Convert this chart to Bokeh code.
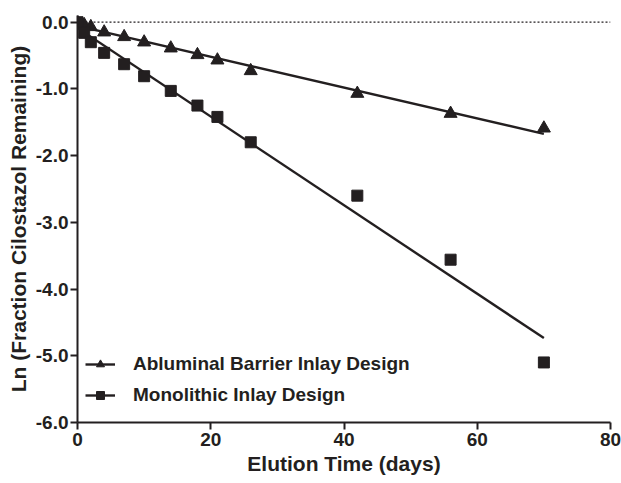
import numpy as np
from bokeh.plotting import figure
from bokeh.models import Range1d, FixedTicker, Span, Legend, LegendItem, PrintfTickFormatter
from bokeh.embed import file_html
from bokeh.resources import INLINE

# Elution sampling days and log of fraction of cilostazol remaining
days = [0, 1, 2, 4, 7, 10, 14, 18, 21, 26, 42, 56, 70]
ln_barrier = [0.0, -0.04, -0.07, -0.15, -0.22, -0.30, -0.39, -0.49, -0.57, -0.73, -1.07, -1.37, -1.59]
ln_monolithic = [0.0, -0.16, -0.30, -0.46, -0.63, -0.81, -1.03, -1.25, -1.42, -1.80, -2.60, -3.56, -5.10]

series_names = ["Abluminal Barrier Inlay Design", "Monolithic Inlay Design"]
x_ticks = [0, 20, 40, 60, 80]
y_ticks = [0, -1, -2, -3, -4, -5, -6]

INK = "#231f20"
FONT = "Liberation Sans"

p = figure(width=621, height=483, output_backend="svg", toolbar_location=None,
           x_range=Range1d(0, 80), y_range=Range1d(-6, 0.1),
           min_border_left=77, min_border_right=11, min_border_top=15, min_border_bottom=61)
p.outline_line_color = None
p.xgrid.visible = False
p.ygrid.visible = False
p.background_fill_color = "white"
p.border_fill_color = "white"

# dotted reference line at zero
p.add_layout(Span(location=0, dimension="width", line_color=INK,
                  line_width=1.2, line_dash="2 2"))

# least-squares first-order fits over the sampled range
x_fit = np.array([min(days), max(days)], dtype=float)
b_slope, b_icpt = np.polyfit(days, ln_barrier, 1)
m_slope, m_icpt = np.polyfit(days, ln_monolithic, 1)

bl = p.line(x_fit, b_icpt + b_slope * x_fit, line_color=INK, line_width=2.4)
bs = p.scatter(days, ln_barrier, marker="triangle", size=13, fill_color=INK, line_color=INK)
ml = p.line(x_fit, m_icpt + m_slope * x_fit, line_color=INK, line_width=2.4)
ms = p.scatter(days, ln_monolithic, marker="square", size=11, fill_color=INK, line_color=INK)

legend = Legend(items=[LegendItem(label=series_names[0], renderers=[bl, bs]),
                       LegendItem(label=series_names[1], renderers=[ml, ms])],
                location=(8, 16), padding=0, margin=0, spacing=9,
                glyph_width=30, glyph_height=20, label_height=20, label_standoff=18,
                background_fill_alpha=0, border_line_color=None,
                label_text_font=FONT, label_text_font_style="bold",
                label_text_font_size="19px", label_text_color=INK)
p.add_layout(legend)

for ax in (p.xaxis[0], p.yaxis[0]):
    ax.axis_line_width = 2
    ax.axis_line_color = INK
    ax.major_tick_line_width = 2
    ax.major_tick_line_color = INK
    ax.major_tick_out = 7
    ax.major_tick_in = 0
    ax.minor_tick_line_color = None
    ax.major_label_text_font = FONT
    ax.major_label_text_font_style = "bold"
    ax.major_label_text_font_size = "19px"
    ax.major_label_text_color = INK
    ax.axis_label_text_font = FONT
    ax.axis_label_text_font_style = "bold"
    ax.axis_label_text_font_size = "21px"
    ax.axis_label_text_color = INK

p.xaxis.ticker = FixedTicker(ticks=x_ticks)
p.yaxis.ticker = FixedTicker(ticks=y_ticks)
p.yaxis.formatter = PrintfTickFormatter(format="%.1f")
p.xaxis.axis_label = "Elution Time (days)"
p.yaxis.axis_label = "Ln (Fraction Cilostazol Remaining)"
p.xaxis.major_label_standoff = 3
p.yaxis.major_label_standoff = 2
p.xaxis.axis_label_standoff = 3
p.yaxis.axis_label_standoff = 3

open("out.html", "w").write(file_html(p, INLINE))
